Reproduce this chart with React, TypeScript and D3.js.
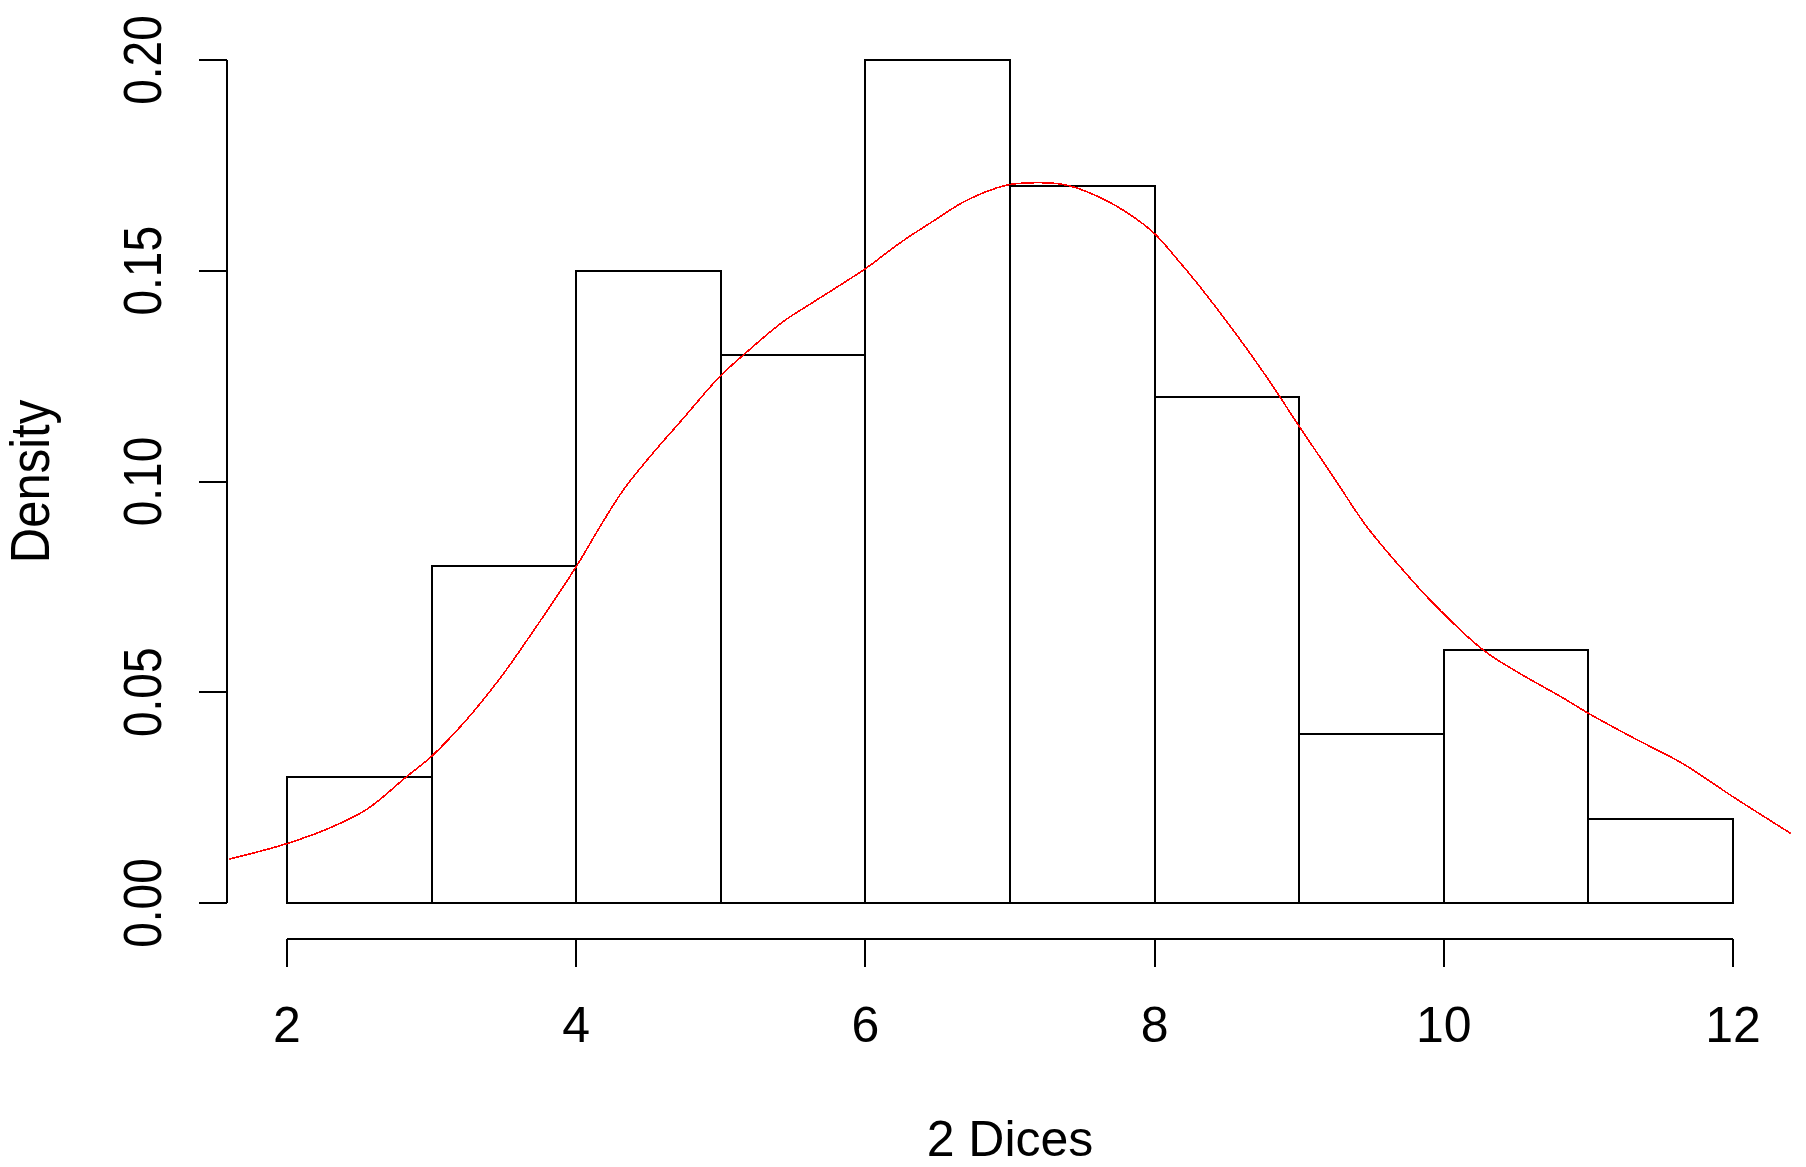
import React from "react";
import * as d3 from "d3";

// Histogram of the sum of two dice (density scale), with a kernel density overlay.
const binEdges = [2, 3, 4, 5, 6, 7, 8, 9, 10, 11, 12];
const binDensity = [0.03, 0.08, 0.15, 0.13, 0.2, 0.17, 0.12, 0.04, 0.06, 0.02];

const xTicks = [2, 4, 6, 8, 10, 12];
const yTicks = [0, 0.05, 0.1, 0.15, 0.2];
const yTickLabels = ["0.00", "0.05", "0.10", "0.15", "0.20"];

// Estimated density curve
const densX = [
  1.585, 1.86, 2.0, 2.275, 2.551, 2.828, 3.0, 3.242, 3.473, 3.623, 4.0, 4.165,
  4.326, 4.51, 4.741, 4.99, 5.156, 5.43, 5.66, 6.0, 6.239, 6.47, 6.7, 6.977,
  7.207, 7.392, 7.622, 7.853, 8.0, 8.15, 8.314, 8.544, 8.775, 8.994, 9.236,
  9.467, 9.697, 9.927, 10.273, 10.504, 10.827, 11.0, 11.31, 11.656, 12.0, 12.404,
];
const densY = [
  0.0103, 0.0127, 0.0141, 0.0175, 0.0222, 0.03, 0.0348, 0.0435, 0.0533, 0.0605,
  0.0798, 0.0893, 0.098, 0.1059, 0.115, 0.1248, 0.13, 0.1379, 0.143, 0.1505,
  0.1566, 0.1618, 0.1667, 0.1703, 0.1709, 0.1703, 0.1674, 0.1628, 0.1588,
  0.153, 0.1462, 0.1359, 0.1248, 0.1134, 0.1011, 0.0893, 0.0798, 0.0711, 0.06,
  0.0549, 0.0486, 0.045, 0.0392, 0.033, 0.0252, 0.0164,
];

const W = 1806;
const H = 1167;
const FONT = "'Liberation Sans', Arial, sans-serif";

export default function App() {
  const x = d3.scaleLinear().domain([2, 12]).range([287, 1733]);
  const y = d3.scaleLinear().domain([0, 0.2]).range([903, 60]);
  const px = (v: number) => Math.round(x(v));
  const py = (v: number) => Math.round(y(v));

  const plotLeft = x(1.6);
  const plotRight = x(12.4);
  const plotTop = y(0.208);
  const plotBottom = y(-0.008);

  const axisLeftX = 227;
  const xAxisY = 939;
  const tickLen = 28;
  const sw = 2;

  const line = d3
    .line<number>()
    .x((_, i) => x(densX[i]))
    .y((d) => y(d))
    .curve(d3.curveCatmullRom.alpha(0.5));

  return (
    <svg
      width={W}
      height={H}
      viewBox={`0 0 ${W} ${H}`}
      style={{ position: "absolute", left: 0, top: 0, background: "#fff" }}
    >
      <defs>
        <clipPath id="plotArea">
          <rect x={plotLeft} y={plotTop} width={plotRight - plotLeft} height={plotBottom - plotTop} />
        </clipPath>
      </defs>
      <rect x={0} y={0} width={W} height={H} fill="#fff" />

      {/* histogram bars */}
      <g fill="none" stroke="#000" strokeWidth={sw} shapeRendering="crispEdges">
        {binDensity.map((d, i) => (
          <rect
            key={i}
            x={px(binEdges[i])}
            y={py(d)}
            width={px(binEdges[i + 1]) - px(binEdges[i])}
            height={py(0) - py(d)}
          />
        ))}
      </g>

      {/* density curve */}
      <path
        d={line(densY) || ""}
        fill="none"
        stroke="#ff0000"
        strokeWidth={1.6}
        shapeRendering="crispEdges"
        clipPath="url(#plotArea)"
      />

      {/* y axis */}
      <g stroke="#000" strokeWidth={sw} shapeRendering="crispEdges">
        <line x1={axisLeftX} x2={axisLeftX} y1={py(0)} y2={py(0.2)} />
        {yTicks.map((t) => (
          <line key={t} x1={axisLeftX - tickLen} x2={axisLeftX} y1={py(t)} y2={py(t)} />
        ))}
      </g>
      {yTicks.map((t, i) => (
        <text
          key={t}
          transform={`translate(161,${y(t)}) rotate(-90) scale(1,1.15)`}
          textAnchor="middle"
          fontFamily={FONT}
          fontSize={46}
          fill="#000"
        >
          {yTickLabels[i]}
        </text>
      ))}

      {/* x axis */}
      <g stroke="#000" strokeWidth={sw} shapeRendering="crispEdges">
        <line x1={px(2)} x2={px(12)} y1={xAxisY} y2={xAxisY} />
        {xTicks.map((t) => (
          <line key={t} x1={px(t)} x2={px(t)} y1={xAxisY} y2={xAxisY + tickLen} />
        ))}
      </g>
      {xTicks.map((t) => (
        <text
          key={t}
          x={x(t)}
          y={1042}
          textAnchor="middle"
          fontFamily={FONT}
          fontSize={50}
          fill="#000"
        >
          {t}
        </text>
      ))}

      {/* axis titles */}
      <text
        x={(plotLeft + plotRight) / 2}
        y={1156}
        textAnchor="middle"
        fontFamily={FONT}
        fontSize={50}
        fill="#000"
      >
        2 Dices
      </text>
      <text
        transform={`translate(49,${(plotTop + plotBottom) / 2}) rotate(-90) scale(1,1.12)`}
        textAnchor="middle"
        fontFamily={FONT}
        fontSize={49}
        fill="#000"
      >
        Density
      </text>
    </svg>
  );
}
